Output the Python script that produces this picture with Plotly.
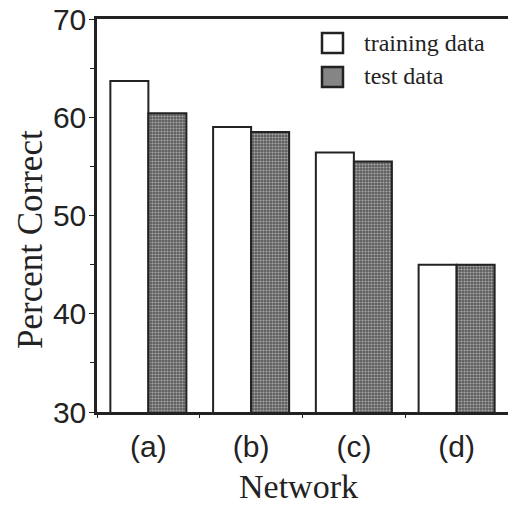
import plotly.graph_objects as go

categories = ["(a)", "(b)", "(c)", "(d)"]
training = [63.7, 59.0, 56.4, 45.0]
test = [60.4, 58.5, 55.5, 45.0]
y_ticks = [30, 40, 50, 60, 70]

SANS = "Liberation Sans, Arial, sans-serif"
SERIF = "Liberation Serif, Times New Roman, serif"
INK = "#222222"
GREY_BG = "#5c5c5c"
GREY_FG = "#a9a9a9"

fig = go.Figure()
fig.add_trace(go.Bar(
    x=categories, y=training, name="training data",
    marker=dict(color="white", line=dict(color=INK, width=2)),
))
fig.add_trace(go.Bar(
    x=categories, y=test, name="test data",
    marker=dict(color=GREY_BG, line=dict(color=INK, width=2),
                pattern=dict(shape=".", fgcolor=GREY_FG, bgcolor=GREY_BG,
                             size=3, solidity=0.4, fillmode="replace")),
))

fig.update_layout(
    width=508, height=508,
    margin=dict(l=97, r=0, t=19, b=96),
    paper_bgcolor="white", plot_bgcolor="white",
    barmode="group", bargap=0.26, bargroupgap=0.0,
    showlegend=False,
    xaxis=dict(
        range=[-0.5, 3.5], showline=True, linecolor=INK, linewidth=2.5,
        mirror=True, ticks="outside", tickson="boundaries", ticklen=3,
        tickcolor=INK, showgrid=False, zeroline=False, ticklabelstandoff=6,
        tickfont=dict(family=SANS, size=30, color=INK),
    ),
    yaxis=dict(
        range=[30, 70], tickvals=y_ticks, showline=True, linecolor=INK,
        linewidth=2.5, ticks="outside", ticklen=5, tickcolor=INK,
        showgrid=False, zeroline=False, ticklabelstandoff=-3,
        tickfont=dict(family=SANS, size=30, color=INK),
        minor=dict(dtick=5, ticks="outside", ticklen=4, tickcolor=INK, showgrid=False),
    ),
)

# axis titles
fig.add_annotation(text="Percent Correct", xref="paper", yref="paper",
                   x=(30 - 97) / 411, y=(412 - 240) / 393, textangle=-90,
                   showarrow=False, xanchor="center", yanchor="middle",
                   font=dict(family=SERIF, size=35, color=INK))
fig.add_annotation(text="Network", xref="paper", yref="paper",
                   x=(298 - 97) / 411, y=(412 - 507) / 393,
                   showarrow=False, xanchor="center", yanchor="bottom",
                   font=dict(family=SERIF, size=34, color=INK))

# legend drawn manually
def px(xp):
    return (xp - 97) / 411

def py(yp):
    return (412 - yp) / 393

fig.add_shape(type="rect", xref="paper", yref="paper",
              x0=px(322), x1=px(343), y0=py(53), y1=py(33),
              line=dict(color=INK, width=2.5), fillcolor="white")
fig.add_shape(type="rect", xref="paper", yref="paper",
              x0=px(322), x1=px(343), y0=py(87), y1=py(67),
              line=dict(color=INK, width=2.5), fillcolor="#858585")
fig.add_annotation(text="training data", xref="paper", yref="paper",
                   x=px(362), y=py(43), showarrow=False, xanchor="left",
                   yanchor="middle", font=dict(family=SERIF, size=24, color=INK))
fig.add_annotation(text="test data", xref="paper", yref="paper",
                   x=px(362), y=py(76), showarrow=False, xanchor="left",
                   yanchor="middle", font=dict(family=SERIF, size=24, color=INK))

fig.write_html("out.html")
